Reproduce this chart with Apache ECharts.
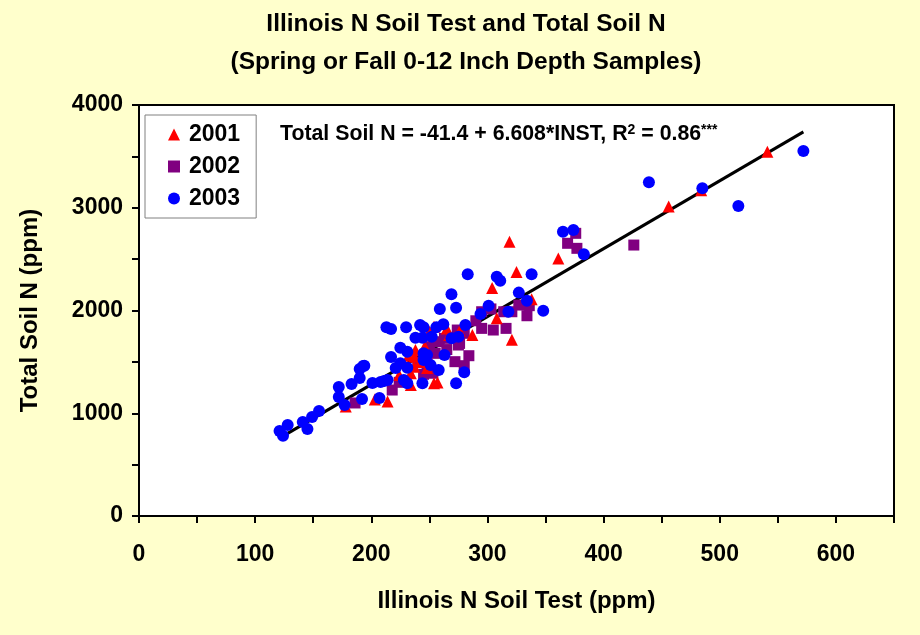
<!DOCTYPE html>
<html><head><meta charset="utf-8">
<script src="https://cdn.jsdelivr.net/npm/echarts@6/dist/echarts.min.js"></script>
<style>html,body{margin:0;padding:0;background:#FFFFCC}#c{width:920px;height:635px}</style>
</head><body><div id="c"></div>
<script>
const seriesNames = ['2001', '2002', '2003'];
const data2001 = [[178,1065],[203,1135],[214,1115],[224,1372],[234,1275],[234,1390],[237,1453],[237,1551],[238,1616],[242,1500],[245,1560],[250,1794],[254,1842],[254,1291],[257,1300],[265,1826],[267,1762],[276,1800],[287,1762],[304,2220],[308,1924],[319,2670],[321,1715],[325,2375],[338,2110],[361,2505],[456,3011],[484,3170],[541,3546],[232,1560],[246,1650],[248,1440]];
const data2002 = [[186,1100],[218,1226],[224,1301],[245,1379],[253,1389],[250,1648],[255,1583],[258,1696],[263,1729],[272,1502],[275,1664],[276,1680],[280,1463],[280,1778],[284,1560],[274,1810],[295,1826],[295,1988],[303,2015],[305,1810],[314,1988],[316,1826],[321,1988],[327,2053],[334,1949],[336,2047],[369,2654],[376,2751],[377,2605],[426,2637],[240,1500],[265,1620],[248,1480],[290,1900]];
const data2003 = [[121,827],[124,780],[128,886],[141,915],[145,847],[149,963],[155,1022],[172,1255],[172,1158],[177,1080],[183,1285],[190,1430],[193,1460],[190,1343],[192,1139],[201,1294],[207,1148],[208,1304],[214,1323],[217,1547],[221,1440],[194,1463],[211,1314],[225,1486],[231,1443],[213,1836],[217,1820],[230,1836],[242,1859],[245,1836],[256,1836],[262,1866],[238,1735],[244,1735],[252,1745],[269,1729],[275,1745],[225,1638],[231,1599],[245,1583],[248,1567],[263,1567],[251,1470],[258,1421],[245,1518],[228,1323],[231,1291],[244,1291],[273,1291],[280,1398],[259,2015],[273,2027],[269,2158],[281,1859],[294,1966],[301,2047],[318,1988],[334,2096],[348,1998],[283,2352],[308,2329],[311,2290],[327,2174],[338,2352],[365,2767],[374,2783],[383,2547],[439,3248],[485,3189],[516,3017],[572,3552]];
const intercept = -41.4;
const slope = 6.608;
const titleLines = ['Illinois N Soil Test and Total Soil N', '(Spring or Fall 0-12 Inch Depth Samples)'];
const xAxisName = 'Illinois N Soil Test (ppm)';
const yAxisName = 'Total Soil N (ppm)';

const FONT = '"Liberation Sans", Arial, sans-serif';
const allX = data2001.concat(data2002, data2003).map(d => d[0]);
const xLo = Math.min(...allX), xHi = Math.max(...allX);
const fitLine = [[xLo, intercept + slope * xLo], [xHi, intercept + slope * xHi]];

const chart = echarts.init(document.getElementById('c'), null, {renderer: 'canvas'});
chart.setOption({
  backgroundColor: '#FFFFCC',
  animation: false,
  title: {
    text: titleLines.join('\n'),
    left: 466, top: 5, textAlign: 'center', padding: 0,
    textStyle: {fontFamily: FONT, fontWeight: 'bold', fontSize: 24.5, lineHeight: 38, color: '#000'}
  },
  grid: {left: 139, right: 26, top: 105, bottom: 119, show: true, backgroundColor: '#fff', borderColor: '#000', borderWidth: 2},
  legend: {
    orient: 'vertical', left: 145, top: 115, selectedMode: false,
    backgroundColor: '#fff', borderColor: '#808080', borderWidth: 1,
    padding: [8, 16, 8, 23], itemGap: 9, itemWidth: 12, itemHeight: 12,
    textStyle: {fontFamily: FONT, fontWeight: 'bold', fontSize: 23, color: '#000', padding: [0, 0, 0, 4]},
    data: seriesNames
  },
  xAxis: {
    type: 'value', min: 0, max: 650, interval: 50,
    name: xAxisName, nameLocation: 'middle', nameGap: 73,
    nameTextStyle: {fontFamily: FONT, fontWeight: 'bold', fontSize: 24, color: '#000'},
    axisLine: {show: true, onZero: false, lineStyle: {color: '#000', width: 2}},
    axisTick: {show: true, length: 7, lineStyle: {color: '#000', width: 2}},
    axisLabel: {margin: 27, fontFamily: FONT, fontWeight: 'bold', fontSize: 23, color: '#000',
      formatter: v => (v % 100 === 0 && v <= 600) ? String(v) : ''},
    splitLine: {show: false}
  },
  yAxis: {
    type: 'value', min: 0, max: 4000, interval: 500,
    name: yAxisName, nameLocation: 'middle', nameGap: 97,
    nameTextStyle: {fontFamily: FONT, fontWeight: 'bold', fontSize: 24, color: '#000'},
    axisLine: {show: true, onZero: false, lineStyle: {color: '#000', width: 2}},
    axisTick: {show: true, length: 7, lineStyle: {color: '#000', width: 2}},
    axisLabel: {margin: 16, fontFamily: FONT, fontWeight: 'bold', fontSize: 23, color: '#000',
      formatter: v => (v % 1000 === 0) ? String(v) : ''},
    splitLine: {show: false}
  },
  graphic: [{
    type: 'text', left: 280, top: 123, z: 100,
    style: {
      text: 'Total Soil N = -41.4 + 6.608*INST, R{sup|2} = 0.86{sup|***}',
      fontFamily: FONT, fontWeight: 'bold', fontSize: 21.3, fill: '#000',
      rich: {sup: {fontFamily: FONT, fontWeight: 'bold', fontSize: 14, verticalAlign: 'top', padding: [0, 0, 9, 0], fill: '#000'}}
    }
  }],
  series: [
    {type: 'line', data: fitLine, showSymbol: false, symbol: 'none', lineStyle: {color: '#000', width: 3}, z: 1, silent: true},
    {name: '2002', type: 'scatter', data: data2002, symbol: 'rect', symbolSize: 11, itemStyle: {color: '#800080', opacity: 1}, z: 2},
    {name: '2001', type: 'scatter', data: data2001, symbol: 'triangle', symbolSize: 12, itemStyle: {color: '#FF0000', opacity: 1}, z: 3},
    {name: '2003', type: 'scatter', data: data2003, symbol: 'circle', symbolSize: 12, itemStyle: {color: '#0000FF', opacity: 1}, z: 4}
  ]
});
</script></body></html>
